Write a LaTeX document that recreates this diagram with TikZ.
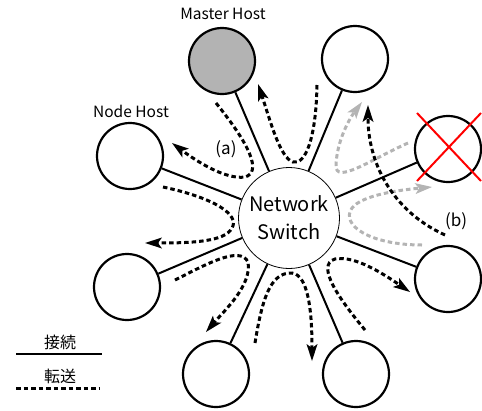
\documentclass[tikz,border=0pt]{standalone}
\usepackage{fontspec}
\setmainfont{Noto Sans CJK JP}
\usetikzlibrary{arrows.meta}
\definecolor{lgray}{HTML}{B4B4B4}
\definecolor{mgray}{HTML}{B3B3B3}
\begin{document}
\begin{tikzpicture}[x=1pt,y=-1pt,
  host/.style={circle,draw,line width=2.2pt,minimum size=66pt,inner sep=0pt},
  sw/.style={circle,draw,line width=0.8pt,minimum size=101pt,inner sep=0pt,align=center,font=\fontsize{20}{28}\selectfont},
  link/.style={line width=2pt},
  xline/.style={line width=3pt,dash pattern=on 4.5pt off 3pt},
  xfer/.style={xline,-{Stealth[length=17pt 0 0,width=11pt 0 0,inset=4pt 0 0,line width=0pt]}},
  gxfer/.style={xfer,draw=lgray},
  lbl/.style={font=\fontsize{15.5}{18}\selectfont,inner sep=0pt},
  plbl/.style={font=\fontsize{17}{18}\selectfont,inner sep=0pt},
  cross/.style={red,line width=2pt}
]
\useasboundingbox (0,0) rectangle (482,410);

% switch and hosts
\node[sw] (S) at (289,218) {Network\\Switch};
\node[host,fill=mgray] (M) at (222,61) {};
\node[host] (T) at (355,59) {};
\node[host] (N) at (130,156) {};
\node[host] (L) at (127,287) {};
\node[host] (BL) at (216,374) {};
\node[host] (BR) at (356,374) {};
\node[host] (R) at (448,279) {};
\node[host] (X) at (448,149) {};

% connections
\foreach \h in {M,T,N,L,BL,BR,R,X} \draw[link] (S) -- (\h);

% failed host cross
\draw[cross] ([shift={(-31,-36)}]X.center) -- ([shift={(33,32)}]X.center);
\draw[cross] ([shift={(-31,32)}]X.center) -- ([shift={(33,-36)}]X.center);

% labels
\node[lbl] (lm) at (223,14) {Master Host};
\node[lbl] (ln) at (131,111) {Node Host};
\node[plbl] (la) at (226,149) {(a)};
\node[plbl] (lb) at (456,221) {(b)};

% transfer paths
\coordinate (a0) at (216,103); \coordinate (a1) at (172,143);
\draw[xfer] (a0) .. controls (250,145) and (262,172) .. (245,177)
  .. controls (225,180) and (195,160) .. (a1);
\coordinate (t0) at (317,85); \coordinate (t1) at (258,84);
\draw[xfer] (t0) .. controls (316,140) and (305,165) .. (293,162)
  .. controls (280,158) and (270,120) .. (t1);
\coordinate (n0) at (163,187); \coordinate (n1) at (145,243);
\draw[xfer] (n0) .. controls (215,198) and (240,215) .. (232,228)
  .. controls (225,242) and (190,243) .. (n1);
\coordinate (l0) at (175,280); \coordinate (l1) at (206,332);
\draw[xfer] (l0) .. controls (205,265) and (240,245) .. (248,262)
  .. controls (252,285) and (225,310) .. (l1);
\coordinate (b0) at (255,343); \coordinate (b1) at (312,361);
\draw[xfer] (b0) .. controls (262,300) and (270,272) .. (292,273)
  .. controls (310,275) and (312,320) .. (b1);
\coordinate (r0) at (365,330); \coordinate (r1) at (410,292);
\draw[xfer] (r0) .. controls (340,300) and (315,265) .. (335,259)
  .. controls (355,255) and (385,275) .. (r1);
\coordinate (g10) at (408,143); \coordinate (g11) at (362,102);
\draw[gxfer] (g10) .. controls (370,160) and (335,185) .. (336,165)
  .. controls (337,140) and (350,118) .. (g11);
\coordinate (g20) at (422,245); \coordinate (g21) at (432,187);
\draw[gxfer] (g20) .. controls (370,245) and (340,225) .. (352,208)
  .. controls (362,195) and (400,190) .. (g21);
\coordinate (k0) at (445,235); \coordinate (k1) at (368,105);
\draw[xfer] (k0) .. controls (390,210) and (368,160) .. (k1);

% legend
\node[lbl,font=\fontsize{16}{18}\selectfont] (lg1) at (60,342) {接続};
\coordinate (lg1a) at (16,354); \coordinate (lg1b) at (102,354);
\draw[link] (lg1a) -- (lg1b);
\node[lbl,font=\fontsize{16}{18}\selectfont] (lg2) at (60,376) {転送};
\coordinate (lg2a) at (16,388); \coordinate (lg2b) at (99,388);
\draw[xline] (lg2a) -- (lg2b);
\end{tikzpicture}
\end{document}
